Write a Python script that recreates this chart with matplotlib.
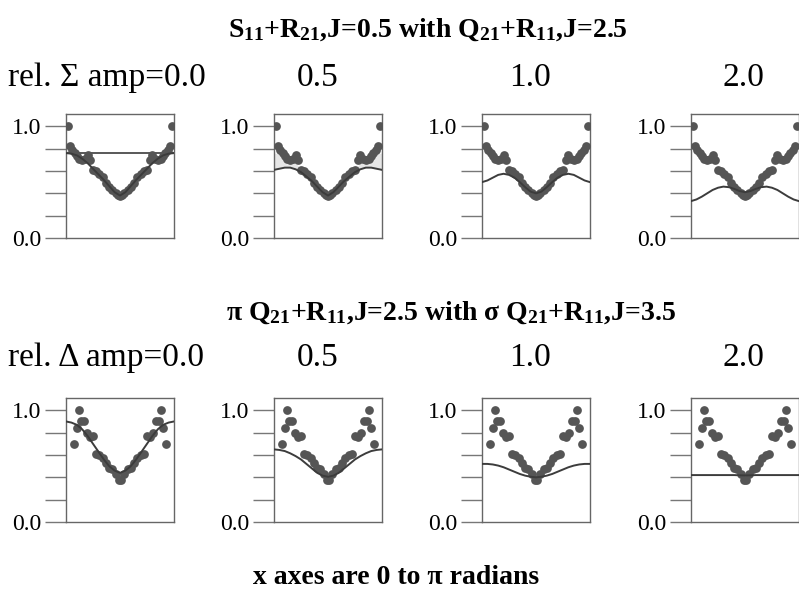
import matplotlib
matplotlib.use("Agg")
import matplotlib.pyplot as plt
import numpy as np

# measured points (x as fraction of pi), same in every panel of a row
top_px = [0.015, 0.035, 0.06, 0.08, 0.10, 0.12, 0.15, 0.18, 0.20, 0.22, 0.25, 0.28, 0.31, 0.34, 0.37,
          0.40, 0.43, 0.46, 0.48, 0.50, 0.52, 0.54, 0.57, 0.60, 0.63, 0.66, 0.69, 0.72, 0.75, 0.78,
          0.80, 0.82, 0.85, 0.88, 0.90, 0.92, 0.94, 0.965, 0.985]
top_py = [1.00, 0.82, 0.79, 0.76, 0.73, 0.71, 0.70, 0.71, 0.745, 0.70, 0.61, 0.60, 0.57, 0.55, 0.49,
          0.46, 0.43, 0.40, 0.385, 0.375, 0.385, 0.40, 0.43, 0.46, 0.49, 0.55, 0.57, 0.60, 0.61, 0.70,
          0.745, 0.71, 0.70, 0.71, 0.73, 0.76, 0.79, 0.82, 1.00]
bot_px = [0.07, 0.10, 0.12, 0.14, 0.17, 0.195, 0.22, 0.25, 0.28, 0.31, 0.34, 0.37, 0.40, 0.43, 0.46,
          0.49, 0.51, 0.54, 0.57, 0.60, 0.63, 0.66, 0.69, 0.72, 0.75, 0.78, 0.805, 0.83, 0.86, 0.88,
          0.90, 0.93]
bot_py = [0.70, 0.84, 1.00, 0.90, 0.90, 0.80, 0.76, 0.77, 0.61, 0.60, 0.57, 0.53, 0.48, 0.47, 0.43,
          0.38, 0.38, 0.43, 0.47, 0.48, 0.53, 0.57, 0.60, 0.61, 0.77, 0.76, 0.80, 0.90, 0.90, 1.00,
          0.84, 0.70]

# model curves sampled every 0.05 pi
curve_x = [0.0, 0.05, 0.10, 0.15, 0.20, 0.25, 0.30, 0.35, 0.40, 0.45, 0.50,
           0.55, 0.60, 0.65, 0.70, 0.75, 0.80, 0.85, 0.90, 0.95, 1.0]
amps = ["0.0", "0.5", "1.0", "2.0"]
top_curves = [
    [0.76, 0.755, 0.74, 0.71, 0.67, 0.62, 0.57, 0.52, 0.465, 0.41, 0.38, 0.41, 0.465, 0.52, 0.57, 0.62, 0.67, 0.71, 0.74, 0.755, 0.76],
    [0.61, 0.62, 0.63, 0.63, 0.615, 0.59, 0.55, 0.51, 0.46, 0.41, 0.38, 0.41, 0.46, 0.51, 0.55, 0.59, 0.615, 0.63, 0.63, 0.62, 0.61],
    [0.50, 0.515, 0.54, 0.565, 0.575, 0.565, 0.54, 0.50, 0.455, 0.415, 0.40, 0.415, 0.455, 0.50, 0.54, 0.565, 0.575, 0.565, 0.54, 0.515, 0.50],
    [0.33, 0.345, 0.37, 0.40, 0.43, 0.45, 0.46, 0.455, 0.44, 0.42, 0.41, 0.42, 0.44, 0.455, 0.46, 0.45, 0.43, 0.40, 0.37, 0.345, 0.33],
]
bot_curves = [
    [0.90, 0.89, 0.87, 0.83, 0.77, 0.70, 0.63, 0.56, 0.50, 0.46, 0.44, 0.46, 0.50, 0.56, 0.63, 0.70, 0.77, 0.83, 0.87, 0.89, 0.90],
    [0.65, 0.645, 0.635, 0.615, 0.59, 0.56, 0.52, 0.48, 0.44, 0.415, 0.405, 0.415, 0.44, 0.48, 0.52, 0.56, 0.59, 0.615, 0.635, 0.645, 0.65],
    [0.52, 0.52, 0.515, 0.505, 0.49, 0.47, 0.45, 0.43, 0.415, 0.405, 0.40, 0.405, 0.415, 0.43, 0.45, 0.47, 0.49, 0.505, 0.515, 0.52, 0.52],
    [0.42, 0.42, 0.42, 0.42, 0.42, 0.42, 0.42, 0.42, 0.42, 0.418, 0.417, 0.418, 0.42, 0.42, 0.42, 0.42, 0.42, 0.42, 0.42, 0.42, 0.42],
]
ref_level = 0.76
yticks = [0.0, 0.2, 0.4, 0.6, 0.8, 1.0]
ytlabels = ["0.0", "", "", "", "", "1.0"]

plt.rcParams["font.family"] = ["Liberation Serif", "DejaVu Serif"]
plt.rcParams["mathtext.fontset"] = "custom"
plt.rcParams["mathtext.rm"] = "Liberation Serif"
plt.rcParams["mathtext.it"] = "Liberation Serif:italic"
plt.rcParams["mathtext.bf"] = "Liberation Serif:bold"

W, H = 799, 601
fig = plt.figure(figsize=(W / 100, H / 100), dpi=100)
lefts = [66, 274, 482, 691]
DOT = "#555555"
LINE = "#3c3c3c"


def panel(left, top, px, py, cx, cy):
    ax = fig.add_axes([left / W, 1 - (top + 124) / H, 108 / W, 124 / H])
    ax.plot(np.array(px) * np.pi, py, "o", color=DOT, ms=6.3, mec="none", zorder=3)
    ax.plot(np.array(cx) * np.pi, cy, color=LINE, lw=1.4, zorder=4)
    ax.set_xlim(0, np.pi)
    ax.set_ylim(0, 1.11)
    ax.set_xticks([])
    ax.set_yticks(yticks)
    ax.set_yticklabels(ytlabels, fontsize=17)
    ax.tick_params(axis="y", length=15, width=1, color="#777777", pad=3)
    for s in ax.spines.values():
        s.set_color("#666666"); s.set_linewidth(1.0)
    return ax


for i in range(4):
    ax = panel(lefts[i], 114, top_px, top_py, curve_x, top_curves[i])
    if i == 0:
        ax.axhline(ref_level, color=LINE, lw=1.2, zorder=2)
    if i == 1:
        ax.fill_between(np.array(curve_x) * np.pi, top_curves[0], top_curves[1],
                        color="#e6e6e6", lw=0, zorder=1)
    panel(lefts[i], 398, bot_px, bot_py, curve_x, bot_curves[i])

sub = lambda s: r"$_{\mathbf{" + s + "}}$"
title1 = "S" + sub("11") + "+R" + sub("21") + ",J=0.5 with Q" + sub("21") + "+R" + sub("11") + ",J=2.5"
title2 = ("\u03c0 Q" + sub("21") + "+R" + sub("11") + ",J=2.5 with \u03c3 Q" + sub("21")
          + "+R" + sub("11") + ",J=3.5")
fig.text(228 / W, 1 - 30 / H, title1, fontsize=20, fontweight="bold", ha="left", va="center")
fig.text(226 / W, 1 - 313 / H, title2, fontsize=20, fontweight="bold", ha="left", va="center")

row_y = [78, 358]
row_names = ["rel. \u03a3 amp=", "rel. \u0394 amp="]
col_x = [0, 318, 530, 743]
for r in range(2):
    for i in range(4):
        txt = row_names[r] + amps[i] if i == 0 else amps[i]
        fig.text((8 if i == 0 else col_x[i]) / W, 1 - row_y[r] / H, txt, fontsize=24,
                 ha="left" if i == 0 else "center", va="center")

fig.text(396 / W, 1 - 578 / H, "x axes are 0 to \u03c0 radians", fontsize=20,
         fontweight="bold", ha="center", va="center")

fig.savefig("out.png", dpi=100)
